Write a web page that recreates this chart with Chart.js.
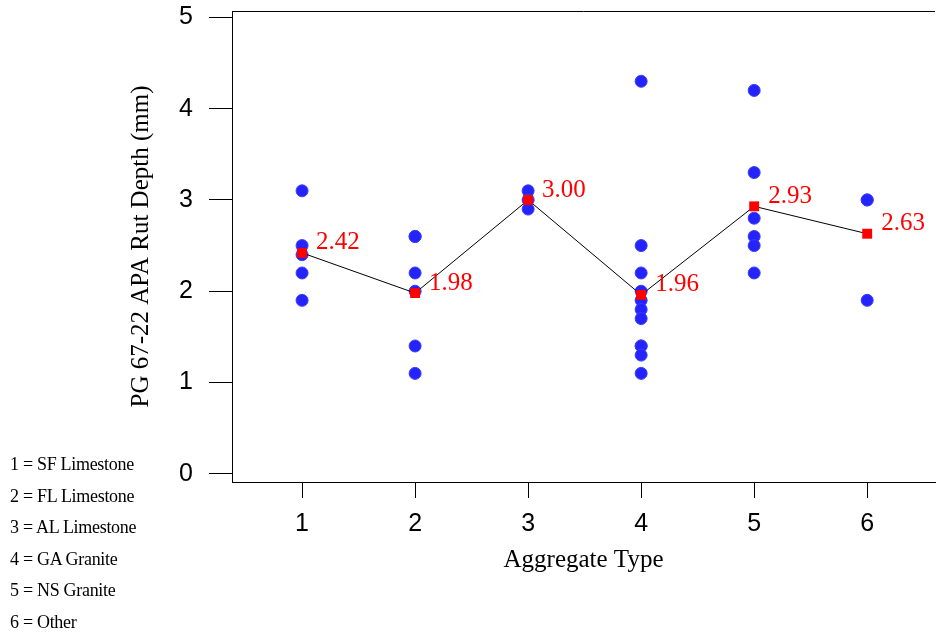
<!DOCTYPE html>
<html>
<head>
<meta charset="utf-8">
<script src="https://cdn.jsdelivr.net/npm/chart.js@4"></script>
<style>
  body { margin: 0; background: #fff; }
  #wrap { position: relative; width: 937px; height: 635px; }
  #key { position: absolute; left: 10px; top: 449px; font-family: "Liberation Serif", serif; font-size: 18px; letter-spacing: -0.3px; line-height: 31.6px; color: #000; }
</style>
</head>
<body>
<div id="wrap">
  <canvas id="myChart" width="937" height="635"></canvas>
  <div id="key"></div>
</div>
<script>
// aggregate codes and names
const categories = [1, 2, 3, 4, 5, 6];
const categoryNames = ['SF Limestone', 'FL Limestone', 'AL Limestone', 'GA Granite', 'NS Granite', 'Other'];

// rut depths (mm) read per aggregate type
const rutSF = [3.1, 2.5, 2.4, 2.2, 1.9];
const rutFL = [2.6, 2.6, 2.2, 2.0, 1.4, 1.1];
const rutAL = [3.1, 3.0, 2.9];
const rutGA = [4.3, 2.5, 2.2, 2.0, 1.9, 1.8, 1.7, 1.4, 1.4, 1.3, 1.1];
const rutNS = [4.2, 3.3, 2.8, 2.6, 2.5, 2.2];
const rutOther = [3.0, 3.0, 1.9];

// group means shown in red
const means = [2.42, 1.98, 3.00, 1.96, 2.93, 2.63];

const yTicks = [0, 1, 2, 3, 4, 5];
const xTicks = [1, 2, 3, 4, 5, 6];

const groups = [rutSF, rutFL, rutAL, rutGA, rutNS, rutOther];
const points = [];
groups.forEach((vals, i) => vals.forEach(v => points.push({ x: categories[i], y: v })));
const meanPoints = means.map((m, i) => ({ x: categories[i], y: m }));

document.getElementById('key').innerHTML =
  categories.map((c, i) => c + ' = ' + categoryNames[i]).join('<br>');

// draws the top of the frame and the mean labels
const extras = {
  id: 'extras',
  afterDatasetsDraw(chart) {
    const ctx = chart.ctx;
    const a = chart.chartArea;
    ctx.save();
    ctx.strokeStyle = '#000';
    ctx.lineWidth = 1;
    ctx.beginPath();
    ctx.moveTo(a.left, a.top + 0.5);
    ctx.lineTo(a.right, a.top + 0.5);
    ctx.stroke();
    const meta = chart.getDatasetMeta(0);
    ctx.fillStyle = '#ff0000';
    ctx.font = '25px "Liberation Serif"';
    ctx.textBaseline = 'middle';
    ctx.textAlign = 'left';
    meta.data.forEach((pt, i) => {
      ctx.fillText(means[i].toFixed(2), pt.x + 14, pt.y - 10);
    });
    ctx.restore();
  }
};

const ctx = document.getElementById('myChart').getContext('2d');
const myChart = new Chart(ctx, {
  type: 'scatter',
  data: {
    datasets: [{
      label: 'Mean',
      data: meanPoints,
      showLine: true,
      borderColor: '#000',
      borderWidth: 1,
      pointStyle: 'rect',
      pointRadius: 7,
      pointBackgroundColor: '#ff0000',
      pointBorderColor: '#ff0000',
      pointBorderWidth: 0
    }, {
      label: 'Rut depth',
      data: points,
      pointRadius: 6,
      pointBackgroundColor: 'rgb(35,35,250)',
      pointBorderColor: 'rgb(60,60,255)',
      pointBorderWidth: 1
    }]
  },
  options: {
    responsive: false,
    animation: false,
    events: [],
    layout: { autoPadding: false, padding: { top: 11, right: 2, left: 126, bottom: 60 } },
    plugins: {
      legend: { display: false },
      tooltip: { enabled: false }
    },
    scales: {
      x: {
        type: 'linear',
        min: 0.38,
        max: 6.6,
        afterFit: s => { s.height = 93; s.paddingLeft = 0; s.paddingRight = 0; },
        afterBuildTicks: s => { s.ticks = xTicks.map(v => ({ value: v })); },
        grid: { drawOnChartArea: false, drawTicks: true, tickLength: 16, color: '#000' },
        border: { display: true, color: '#000', width: 1 },
        ticks: { color: '#000', padding: 11, font: { family: 'Liberation Sans', size: 25 } },
        title: { display: true, text: 'Aggregate Type', color: '#000', padding: 0,
                 font: { family: 'Liberation Serif', size: 25 } }
      },
      y: {
        min: -0.09,
        max: 5.07,
        afterFit: s => { s.width = 106; s.paddingTop = 0; s.paddingBottom = 0; },
        afterBuildTicks: s => { s.ticks = yTicks.map(v => ({ value: v })); },
        grid: { drawOnChartArea: false, drawTicks: true, tickLength: 23, color: '#000' },
        border: { display: true, color: '#000', width: 1 },
        ticks: { color: '#000', padding: 16, font: { family: 'Liberation Sans', size: 25 } },
        title: { display: true, text: 'PG 67-22 APA Rut Depth (mm)', color: '#000', padding: 0,
                 font: { family: 'Liberation Serif', size: 25 } }
      }
    }
  },
  plugins: [extras]
});
</script>
</body>
</html>
